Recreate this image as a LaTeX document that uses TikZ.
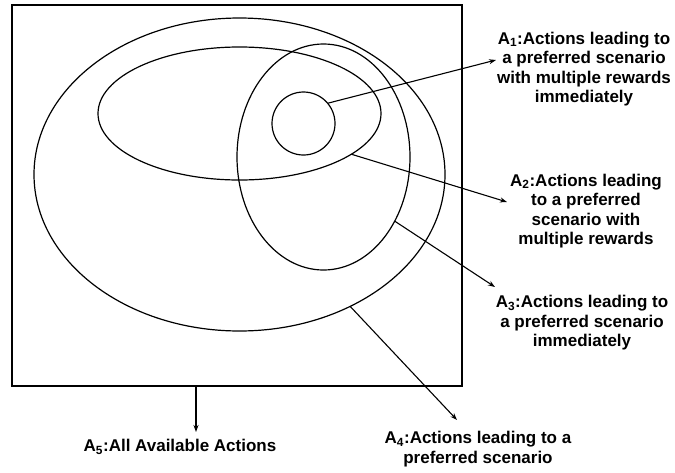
\documentclass[tikz,border=0pt]{standalone}
\usepackage{fontspec}
\setmainfont{Liberation Sans}
\usetikzlibrary{shapes.geometric,arrows.meta}
\begin{document}
\begin{tikzpicture}[x=1pt,y=-1pt,
  setline/.style={draw=black,line width=1.2pt,inner sep=0pt,outer sep=0pt,fill=none},
  ell/.style={setline,ellipse},
  arr/.style={line width=1.1pt,-{Stealth[length=7pt,width=5pt]}},
  lbl/.style={align=center,inner sep=0pt,font=\fontsize{17}{19.5}\selectfont\bfseries}]
\useasboundingbox (0,0) rectangle (675,472);
% sets
\node[setline,line width=1.5pt,rectangle,minimum width=450pt,minimum height=381pt] (rect) at (237,195.5) {};
\node[ell,minimum width=411pt,minimum height=313pt] (e4) at (239.5,174.5) {};
\node[ell,minimum width=283pt,minimum height=133pt] (e2) at (239.5,113.5) {};
\node[ell,minimum width=173pt,minimum height=226pt] (e3) at (323.5,157) {};
\node[setline,circle,minimum size=63pt] (c1) at (303.5,123.5) {};
% labels
\node[lbl] (l1) at (584,69) {A\textsubscript{1}:Actions leading to\\a preferred scenario\\with multiple rewards\\immediately};
\node[lbl] (l2) at (586,211) {A\textsubscript{2}:Actions leading\\to a preferred\\scenario with\\multiple rewards};
\node[lbl] (l3) at (582,323) {A\textsubscript{3}:Actions leading to\\a preferred scenario\\immediately};
\node[lbl] (l4) at (478,449) {A\textsubscript{4}:Actions leading to a\\preferred scenario};
\node[lbl] (l5) at (180,447) {A\textsubscript{5}:All Available Actions};
% arrow tips
\coordinate (t1) at (496,60);
\coordinate (t2) at (507,202);
\coordinate (t3) at (495,287);
\coordinate (t4) at (457,420);
\coordinate (t5) at (196,432);
\draw[arr] (c1.40) -- (t1);
\draw[arr] (e2.-20.2) -- (t2);
\draw[arr] (e3.-42.2) -- (t3);
\draw[arr] (e4.-50.6) -- (t4);
\draw[arr] (rect.south -| t5) -- (t5);
\end{tikzpicture}
\end{document}
